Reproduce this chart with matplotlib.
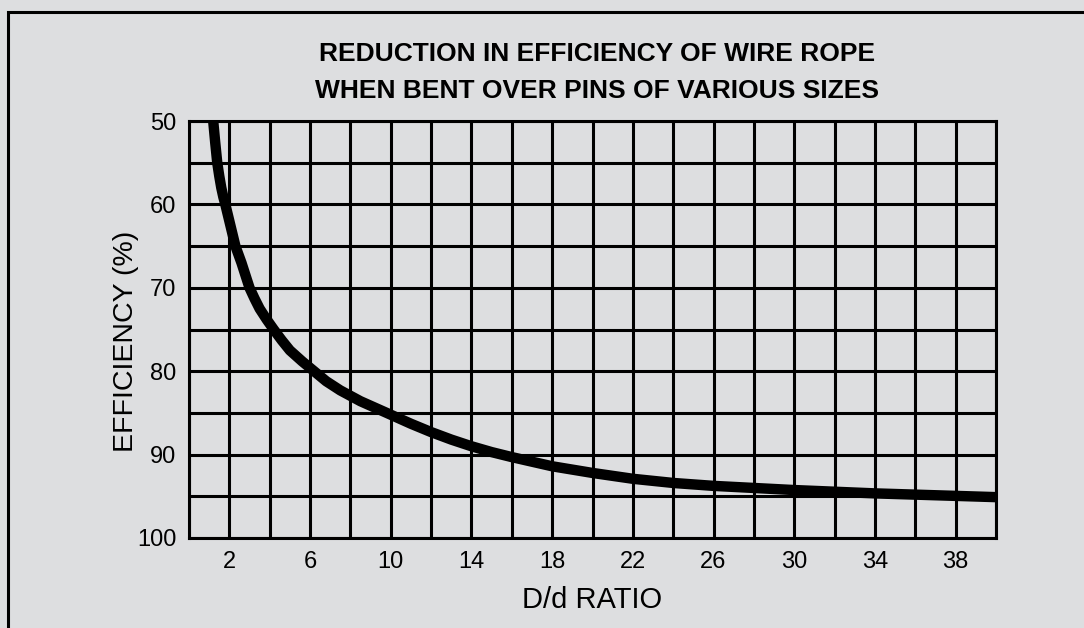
import matplotlib.pyplot as plt
from matplotlib.patches import Rectangle

# values
ratio = [1.2, 1.3, 1.4, 1.5, 1.6, 1.7, 1.8, 1.9, 2.0, 2.15, 2.3, 2.45, 2.6,
         2.8, 3.0, 3.25, 3.5, 3.85, 4.2, 4.6, 5.0, 5.6, 6.2, 6.8, 7.5, 8.5,
         9.8, 11.0, 12.0, 13.0, 14.0, 15.0, 16.0, 17.0, 18.0, 20.0, 22.0,
         24.0, 26.0, 28.0, 30.0, 32.0, 34.0, 36.0, 38.0, 40.0]
efficiency = [50, 52.6, 55, 56.6, 58, 59.1, 60, 61, 62, 63.5, 65, 66, 67,
              68.5, 70, 71.3, 72.5, 73.8, 75, 76.3, 77.5, 78.8, 80, 81.2, 82.3,
              83.6, 85, 86.3, 87.3, 88.2, 89.0, 89.7, 90.3, 90.85, 91.4, 92.2,
              92.9, 93.4, 93.75, 94.0, 94.25, 94.45, 94.65, 94.8, 94.95, 95.1]

x_labels = [2, 6, 10, 14, 18, 22, 26, 30, 34, 38]
y_labels = [50, 60, 70, 80, 90, 100]

bg = "#dddee0"
plt.rcParams["font.family"] = ["Liberation Sans", "DejaVu Sans"]

fig = plt.figure(figsize=(10.84, 6.28), dpi=100, facecolor=bg)
ax = fig.add_axes([189 / 1084, 1 - 538 / 628, (996 - 189) / 1084, (538 - 121) / 628])
ax.set_facecolor(bg)

# outer frame, runs off the right and bottom edges
fig.patches.append(Rectangle((8 / 1084, -0.05), 1.2, 1 - 12 / 628 + 0.05,
                             transform=fig.transFigure, fill=False,
                             edgecolor="black", linewidth=2.2))

ax.plot(ratio, efficiency, color="black", linewidth=7.5, solid_capstyle="butt",
        solid_joinstyle="round", zorder=3)

ax.set_xlim(0, 40)
ax.set_ylim(100, 50)
ax.set_xticks(x_labels)
ax.set_xticks(range(0, 41, 2), minor=True)
ax.set_yticks(y_labels)
ax.set_yticks(range(50, 101, 5), minor=True)
ax.grid(which="both", color="black", linewidth=2.2)
ax.tick_params(which="both", length=0)
ax.tick_params(axis="x", pad=9, labelsize=17)
ax.tick_params(axis="y", pad=9, labelsize=17)
for s in ax.spines.values():
    s.set_linewidth(2.2)

ax.set_xlabel("D/d RATIO", fontsize=21, labelpad=10)
ax.set_ylabel("EFFICIENCY (%)", fontsize=20.5, va="center")
ax.yaxis.set_label_coords(-0.078, 0.472)

fig.text(597 / 1084, 1 - 54 / 628, "REDUCTION IN EFFICIENCY OF WIRE ROPE",
         ha="center", va="center", fontsize=19, fontweight="bold")
fig.text(597 / 1084, 1 - 91 / 628, "WHEN BENT OVER PINS OF VARIOUS SIZES",
         ha="center", va="center", fontsize=19, fontweight="bold")

fig.savefig("out.png", dpi=100, facecolor=bg)
